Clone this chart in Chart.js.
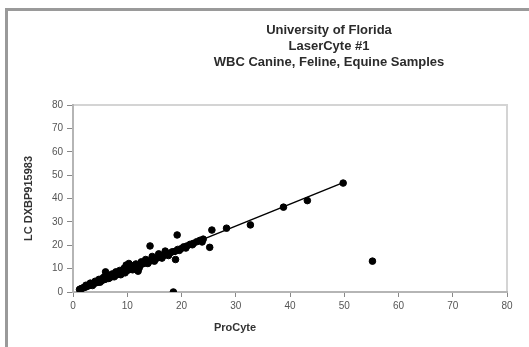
<!DOCTYPE html>
<html>
<head>
<meta charset="utf-8">
<script src="https://cdn.jsdelivr.net/npm/chart.js@4"></script>
<style>
  body { margin: 0; background: #fff; }
  #wrap { position: relative; width: 529px; height: 347px; overflow: hidden; }
  #frame { position: absolute; left: 5px; top: 8px; width: 600px; height: 400px;
           border-top: 3px solid #9a9a9a; border-left: 3px solid #9a9a9a; }
  canvas { position: absolute; left: 0; top: 0; }
</style>
</head>
<body>
<div id="wrap">
  <div id="frame"></div>
  <canvas id="myChart" width="529" height="347"></canvas>
</div>
<script>
var titleLines = ["University of Florida", "LaserCyte #1", "WBC Canine, Feline, Equine Samples"];
var xTitle = "ProCyte";
var yTitle = "LC DXBP915983";

// ProCyte (x) vs LaserCyte (y) WBC values
var procyte = [1.2, 1.4, 1.6, 1.9, 2.1, 2.3, 2.6, 2.8, 3.0, 3.3, 3.5, 3.7, 4.0, 4.2, 4.4, 4.6, 4.9, 5.1, 5.3,
  5.5, 5.7, 5.9, 6.1, 6.3, 6.5, 6.7, 6.9, 7.1, 7.3, 7.5, 7.7, 7.9, 8.1, 8.3, 8.5, 8.7, 8.9, 9.1, 9.3,
  9.5, 9.7, 9.9, 10.1, 10.3, 10.5, 10.7, 10.9, 11.2, 11.5, 11.8, 12.1, 12.4, 12.8, 13.1, 13.5, 13.9,
  14.3, 14.7, 15.2, 15.6, 16.0, 16.6, 17.2, 17.8, 18.3, 18.8, 19.3, 19.9, 20.4, 21.0, 21.6, 22.2,
  22.8, 23.4, 24.0,
  2.4, 3.2, 4.1, 4.8, 5.6, 6.4, 7.2, 7.9, 8.6, 9.4, 10.0, 10.8, 11.6, 12.6, 13.4, 14.6, 15.8, 17.0,
  3.6, 5.0, 6.6, 7.6, 8.8, 9.6, 11.0, 12.2, 13.8, 15.0, 16.4, 17.6, 19.6, 20.8, 22.0, 23.8,
  6.0, 10.3, 9.8, 14.2, 19.2, 18.9, 25.2, 25.6, 28.3, 32.7, 38.8, 43.2, 49.8, 55.2, 18.5, 16.8, 12.0];
var lasercyte = [1.1, 1.3, 1.5, 1.8, 2.0, 2.1, 2.5, 2.6, 2.9, 3.1, 3.2, 3.6, 3.8, 3.9, 4.3, 4.2, 4.6, 4.9, 5.0,
  5.1, 5.5, 5.4, 5.8, 6.0, 6.1, 6.4, 6.3, 6.8, 6.9, 7.0, 7.4, 7.2, 7.8, 7.6, 8.1, 8.3, 8.2, 8.8, 8.6,
  9.1, 9.0, 9.5, 9.3, 9.9, 9.7, 10.2, 10.0, 10.6, 10.4, 11.1, 11.2, 11.5, 12.0, 12.3, 12.5, 13.1,
  13.3, 13.9, 14.1, 14.6, 15.0, 15.4, 16.1, 16.5, 17.2, 17.4, 18.2, 18.5, 19.3, 19.7, 20.4, 20.8,
  21.5, 22.1, 22.6,
  2.9, 3.8, 4.6, 5.4, 6.2, 7.1, 7.7, 8.6, 9.2, 10.1, 10.9, 11.3, 12.0, 12.9, 13.9, 15.2, 16.3, 17.5,
  2.8, 4.2, 5.8, 6.5, 7.4, 8.2, 9.5, 10.3, 12.2, 13.2, 14.5, 15.6, 17.8, 18.8, 20.2, 21.4,
  8.6, 12.2, 11.5, 19.7, 24.4, 13.9, 19.1, 26.5, 27.3, 28.7, 36.3, 39.1, 46.6, 13.2, 0.0, 16.0, 8.9];

var trendX = [0.8, 49.8];
var trendY = [0.8, 46.8];

var xTicks = [0, 10, 20, 30, 40, 50, 60, 70, 80];
var yTicks = [0, 10, 20, 30, 40, 50, 60, 70, 80];

var points = procyte.map(function (x, i) { return { x: x, y: lasercyte[i] }; });
var trend = trendX.map(function (x, i) { return { x: x, y: trendY[i] }; });

var fontFam = "'Liberation Sans', Arial, sans-serif";

var textPlugin = {
  id: "texts",
  beforeDraw: function (chart) {
    var c = chart.ctx, a = chart.chartArea;
    c.save();
    c.strokeStyle = "#d4d4d4";
    c.lineWidth = 2;
    c.beginPath();
    c.moveTo(a.left, a.top);
    c.lineTo(a.right, a.top);
    c.lineTo(a.right, a.bottom);
    c.stroke();
    c.restore();
  },
  afterDraw: function (chart) {
    var c = chart.ctx;
    c.save();
    c.fillStyle = "#2b2b2b";
    c.textAlign = "center";
    c.textBaseline = "middle";
    c.font = "bold 13px " + fontFam;
    titleLines.forEach(function (t, i) {
      c.fillText(t, 329, 30 + i * 16);
    });
    c.font = "bold 11px " + fontFam;
    c.fillStyle = "#333";
    c.fillText(xTitle, 235, 328);
    c.restore();
  }
};

new Chart("myChart", {
  type: "scatter",
  data: {
    datasets: [{
      data: points,
      backgroundColor: "#000",
      borderColor: "#000",
      pointRadius: 3.3,
      pointHoverRadius: 3.3
    }, {
      type: "line",
      data: trend,
      borderColor: "#000",
      borderWidth: 1.5,
      pointRadius: 0,
      fill: false
    }]
  },
  options: {
    responsive: false,
    animation: false,
    layout: { padding: { top: 105, right: 22, left: 0, bottom: 0 } },
    plugins: {
      legend: { display: false },
      tooltip: { enabled: false }
    },
    scales: {
      x: {
        type: "linear",
        min: 0, max: 80,
        afterFit: function (s) { s.height = 55; },
        afterBuildTicks: function (s) { s.ticks = xTicks.map(function (v) { return { value: v }; }); },
        grid: { drawOnChartArea: false, tickLength: 5, color: "#888", lineWidth: 1 },
        border: { color: "#b5b5b5", width: 2 },
        ticks: { color: "#555", font: { size: 10, family: fontFam }, padding: 3 }
      },
      y: {
        min: 0, max: 80,
        afterFit: function (s) { s.width = 73; },
        afterBuildTicks: function (s) { s.ticks = yTicks.map(function (v) { return { value: v }; }); },
        grid: { drawOnChartArea: false, tickLength: 6, color: "#888", lineWidth: 1 },
        border: { color: "#b5b5b5", width: 2 },
        ticks: { color: "#555", font: { size: 10, family: fontFam }, padding: 4 },
        title: { display: true, text: yTitle, color: "#333",
                 font: { size: 11, weight: "bold", family: fontFam }, padding: { top: 22, bottom: 0 } }
      }
    }
  },
  plugins: [textPlugin]
});
</script>
</body>
</html>
